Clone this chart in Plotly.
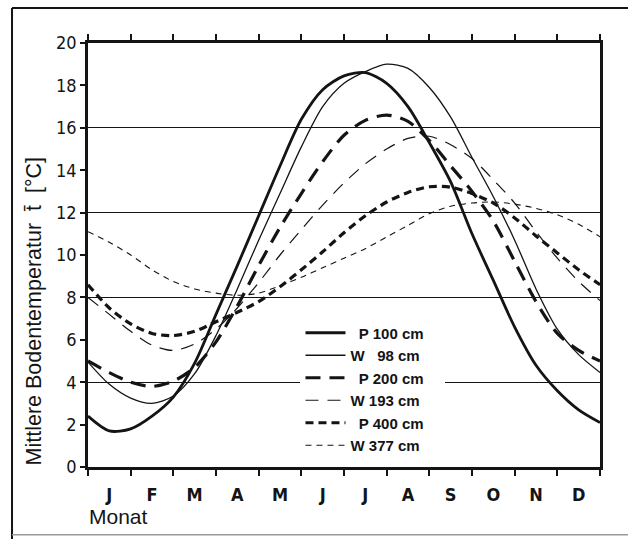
import plotly.graph_objects as go

# x positions: half-month steps (0 = start of January, 12 = end of December)
x_pos = [i * 0.5 for i in range(25)]
months = ["J", "F", "M", "A", "M", "J", "J", "A", "S", "O", "N", "D"]
month_centers = [i + 0.5 for i in range(12)]
month_bounds = list(range(13))
y_ticks = list(range(0, 21, 2))
y_grid = [4, 8, 12, 16]

p100 = [2.4, 1.7, 1.8, 2.4, 3.3, 4.9, 7.2, 9.5, 11.85, 14.2, 16.4, 17.8, 18.45, 18.6, 18.1, 17.0, 15.3, 13.45, 11.0, 8.8, 6.6, 4.8, 3.6, 2.7, 2.1]
w98 = [4.95, 3.9, 3.25, 3.0, 3.35, 4.4, 6.2, 8.4, 10.7, 12.9, 15.1, 17.0, 18.1, 18.65, 19.0, 18.8, 17.9, 16.5, 14.6, 12.75, 10.7, 8.4, 6.5, 5.3, 4.46]
p200 = [5.0, 4.45, 4.0, 3.8, 4.05, 4.7, 5.9, 7.6, 9.5, 11.3, 12.9, 14.4, 15.65, 16.35, 16.6, 16.3, 15.4, 14.2, 13.0, 11.6, 9.7, 7.8, 6.3, 5.5, 5.0]
w193 = [8.0, 7.2, 6.4, 5.75, 5.5, 5.8, 6.5, 7.5, 8.7, 10.0, 11.2, 12.35, 13.4, 14.3, 15.0, 15.5, 15.6, 15.2, 14.55, 13.55, 12.45, 11.1, 9.85, 8.75, 7.85]
p400 = [8.6, 7.5, 6.75, 6.3, 6.2, 6.4, 6.85, 7.3, 7.8, 8.5, 9.3, 10.15, 11.05, 11.85, 12.5, 12.95, 13.22, 13.2, 12.9, 12.45, 11.75, 10.9, 10.1, 9.3, 8.6]
w377 = [11.1, 10.6, 10.0, 9.3, 8.75, 8.4, 8.2, 8.1, 8.2, 8.55, 8.95, 9.4, 9.85, 10.3, 10.85, 11.4, 11.95, 12.3, 12.45, 12.5, 12.4, 12.2, 11.9, 11.45, 10.86]

series = [
    ("P 100 cm", p100, 2.8, "solid"),
    ("W \u00a0\u00a098 cm", w98, 1.3, "solid"),
    ("P 200 cm", p200, 3.2, "15px,9px"),
    ("W 193 cm", w193, 1.2, "13px,9px"),
    ("P 400 cm", p400, 3.2, "8px,5px"),
    ("W 377 cm", w377, 1.1, "6px,5px"),
]

INK = "#141414"
fig = go.Figure()
for name, vals, w, dash in series:
    label = ("\u00a0\u00a0" + name) if name.startswith("P") else name
    label = label + "\u00a0\u00a0\u00a0\u00a0"
    fig.add_trace(go.Scatter(x=x_pos, y=vals, mode="lines", name=label,
                             line=dict(color=INK, width=w, dash=dash, shape="spline", smoothing=0.8)))

narrow = "Liberation Sans Narrow, DejaVu Sans Condensed, Arial Narrow, sans-serif"
tick_font = dict(family=narrow, size=18, color=INK)
month_font = dict(family=narrow, size=18, color=INK, weight="bold")

fig.update_layout(
    width=628, height=539,
    margin=dict(l=88, r=28, t=43, b=72),
    paper_bgcolor="white", plot_bgcolor="white",
    showlegend=True,
    legend=dict(x=0.415, y=0.355, xanchor="left", yanchor="top",
                bgcolor="white", borderwidth=0,
                font=dict(family="Liberation Sans, Arial, sans-serif", size=15, color=INK, weight="bold"),
                tracegroupgap=0, itemwidth=40),
    xaxis=dict(range=[0, 12], showline=True, linewidth=2.5, linecolor=INK, mirror="ticks",
               tickmode="array", tickvals=month_centers, ticktext=months, ticks="",
               ticklabelstandoff=10, tickfont=month_font, showgrid=False, zeroline=False,
               minor=dict(tickmode="array", tickvals=month_bounds, ticks="outside", ticklen=6,
                          tickwidth=2, tickcolor=INK, showgrid=False)),
    yaxis=dict(range=[0, 20], showline=True, linewidth=2.5, linecolor=INK, mirror=True,
               tickmode="array", tickvals=y_ticks, ticks="outside", ticklen=5, tickwidth=2,
               tickcolor=INK, tickfont=tick_font, showgrid=False, zeroline=False,
               minor=dict(tickmode="array", tickvals=y_grid, ticks="", showgrid=True,
                          gridcolor=INK, gridwidth=1.3)),
    yaxis2=dict(range=[0, 20], overlaying="y", side="right", anchor="x", showline=False,
                tickmode="array", tickvals=y_ticks, ticks="inside", ticklen=6, tickwidth=2,
                tickcolor=INK, showticklabels=False, showgrid=False, zeroline=False),
    shapes=[
        dict(type="line", xref="paper", yref="paper", x0=-0.1484, x1=1.08, y0=1.0825, y1=1.0825,
             line=dict(color=INK, width=2)),
        dict(type="line", xref="paper", yref="paper", x0=-0.1484, x1=-0.1484, y0=1.0825, y1=-0.2,
             line=dict(color=INK, width=2)),
        dict(type="line", xref="paper", yref="paper", x0=-0.1484, x1=1.08, y0=-0.1598, y1=-0.1598,
             line=dict(color="#9a9a9a", width=1.5)),
    ],
    annotations=[
        dict(text="Mittlere Bodentemperatur \u00a0t\u0304 \u00a0[\u00b0C]", xref="paper", yref="paper",
             x=-0.1055, y=0.0, xanchor="center", yanchor="bottom", textangle=-90, showarrow=False,
             font=dict(family="Liberation Sans, Arial, sans-serif", size=21.5, color=INK)),
        dict(text="Monat", xref="paper", yref="paper", x=-0.002, y=-0.1156,
             xanchor="left", yanchor="middle", showarrow=False,
             font=dict(family="Liberation Sans, Arial, sans-serif", size=21, color=INK)),
    ],
)

fig.write_html("out.html")
